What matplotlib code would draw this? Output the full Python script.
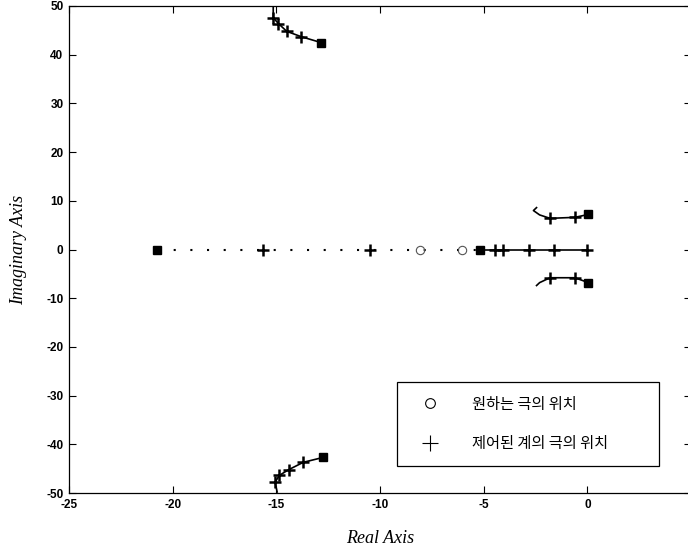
import matplotlib
matplotlib.use("Agg")
import matplotlib.pyplot as plt
from matplotlib.lines import Line2D

# root locus branches (real, imag)
upper_left_re = [-15.15, -15.15, -14.9, -14.5, -13.8, -12.85]
upper_left_im = [50.0, 47.6, 46.4, 44.8, 43.7, 42.5]
lower_left_re = [-14.96, -15.06, -14.86, -14.4, -13.7, -12.75]
lower_left_im = [-49.8, -47.8, -46.4, -45.2, -43.7, -42.7]

upper_right_re = [-2.45, -2.6, -2.3, -1.8, -0.6, 0.05]
upper_right_im = [8.6, 8.0, 7.1, 6.4, 6.6, 7.2]
lower_right_re = [-2.45, -2.3, -1.8, -0.6, 0.05]
lower_right_im = [-7.4, -6.8, -5.8, -5.8, -6.8]

# real axis
real_left = [-20.75, -15.64, -10.47, -5.26]
real_right = [-5.16, -4.44, -4.05, -2.8, -1.6, 0.0]

# open-loop poles (squares)
pole_re = [-12.85, -12.75, 0.05, 0.05, -20.75, -5.2]
pole_im = [42.5, -42.7, 7.2, -6.8, 0.0, 0.0]

# desired poles (circles)
desired_re = [-8.06, -6.03]
desired_im = [0.0, 0.0]

# closed-loop poles (pluses)
plus_re = [-15.15, -14.9, -14.5, -13.8, -15.06, -14.86, -14.4, -13.7,
           -1.8, -0.6, -1.8, -0.6, -15.64, -10.47, -4.44, -4.05, -2.8, -1.6, 0.0]
plus_im = [47.6, 46.4, 44.8, 43.7, -47.8, -46.4, -45.2, -43.7,
           6.4, 6.6, -5.8, -5.8, 0, 0, 0, 0, 0, 0, 0]

x_ticks = [-25, -20, -15, -10, -5, 0]
y_ticks = [-50, -40, -30, -20, -10, 0, 10, 20, 30, 40, 50]
legend_labels = ["원하는 극의 위치", "제어된 계의 극의 위치"]

fig = plt.figure(figsize=(6.88, 5.53), dpi=100)
W, H = 688.0, 553.0
ax = fig.add_axes([69 / W, 1 - 493 / H, 622 / W, 487 / H])

lw = 1.2
ax.plot(upper_left_re, upper_left_im, color="black", lw=lw)
ax.plot(lower_left_re, lower_left_im, color="black", lw=lw)
ax.plot(upper_right_re, upper_right_im, color="black", lw=lw)
ax.plot(lower_right_re, lower_right_im, color="black", lw=lw)
ax.plot(real_right, [0] * len(real_right), color="black", lw=lw)
ax.plot(real_left, [0] * len(real_left), color="black", lw=1.5,
        linestyle=(0, (1, 7)))

ax.plot(plus_re, plus_im, linestyle="none", marker="+", color="black",
        ms=8, mew=1.8)
ax.plot(pole_re, pole_im, linestyle="none", marker="s", color="black", ms=6)
ax.plot(desired_re, desired_im, linestyle="none", marker="o",
        mfc="none", mec="#555555", ms=6, mew=0.8)

ax.set_xlim(-25, 5)
ax.set_ylim(-50, 50)
ax.set_xticks(x_ticks)
ax.set_xticklabels([str(v) for v in x_ticks])
ax.set_yticks(y_ticks)
ax.set_yticklabels([str(v) for v in y_ticks])
ax.tick_params(direction="in", top=True, right=True, length=5, width=0.8,
               labelsize=8.5, pad=4)
for lab in ax.get_xticklabels() + ax.get_yticklabels():
    lab.set_family("Liberation Sans")
    lab.set_weight("bold")
for s in ax.spines.values():
    s.set_linewidth(0.9)

ax.set_xlabel("Real Axis", family="Liberation Serif", style="italic",
              fontsize=13, labelpad=14)
ax.set_ylabel("Imaginary Axis", family="Liberation Serif", style="italic",
              fontsize=13, labelpad=14)

handles = [
    Line2D([], [], linestyle="none", marker="o", mfc="none", mec="black",
           ms=7, mew=0.8),
    Line2D([], [], linestyle="none", marker="+", color="black", ms=12,
           mew=0.8),
]
leg = ax.legend(handles, legend_labels, loc="lower left",
                bbox_to_anchor=(0.527, 0.055, 0.422, 0.167), mode="expand",
                prop={"family": ["Noto Sans CJK KR", "DejaVu Sans"],
                      "size": 11},
                fancybox=False, framealpha=1, edgecolor="black",
                borderpad=0.9, labelspacing=1.5, handlelength=2.5,
                handletextpad=1.5, borderaxespad=0)
leg.get_frame().set_linewidth(0.9)

fig.savefig("out.png", dpi=100)
